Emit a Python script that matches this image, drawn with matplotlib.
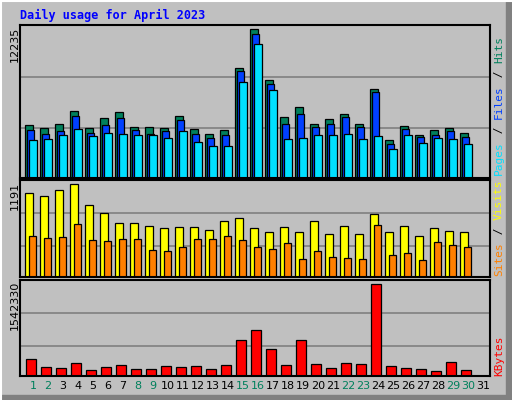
import matplotlib
matplotlib.use("Agg")
import matplotlib.pyplot as plt
from matplotlib.patches import Rectangle
from matplotlib.lines import Line2D

days = list(range(1, 32))
weekend = [1, 2, 8, 9, 15, 16, 22, 23, 29, 30]

hits = [4319, 4069, 4402, 5481, 4069, 4900, 5398, 4152, 4152, 4069, 5066, 3986, 3654, 3903, 9052, 12235,
        8056, 4983, 5814, 4402, 4817, 5232, 4402, 7308, 3156, 4236, 3571, 3903, 4069, 3737, 0]
files = [3903, 3654, 3820, 5066, 3737, 4319, 4900, 3903, 3654, 3820, 4734, 3654, 3322, 3571, 8803, 11793,
         7724, 4402, 5232, 4152, 4402, 4983, 4152, 7059, 2824, 3986, 3405, 3571, 3820, 3405, 0]
pages = [3156, 3239, 3571, 3986, 3488, 3737, 3654, 3571, 3571, 3322, 3820, 2990, 2658, 2658, 7890, 11046,
         7225, 3239, 3322, 3571, 3571, 3654, 3239, 3488, 2408, 3571, 2907, 3322, 3239, 2824, 0]
visits = [1075, 1036, 1114, 1191, 920, 817, 701, 701, 662, 624, 649, 649, 611, 714, 753, 636,
          585, 649, 585, 714, 559, 662, 559, 804, 585, 662, 533, 636, 598, 585, 0]
sites = [533, 507, 520, 688, 482, 469, 495, 495, 353, 340, 391, 495, 495, 533, 482, 391,
         366, 443, 237, 340, 262, 249, 237, 675, 288, 314, 224, 456, 417, 391, 0]
kbytes = [292708, 157612, 140725, 225160, 106951, 157612, 191386, 123838, 123838, 174499, 157612, 174499,
          123838, 191386, 596674, 765544, 461578, 191386, 596674, 208273, 140725, 225160, 208273, 1542330,
          174499, 140725, 123838, 90064, 242047, 106951, 0]

BG = "#C0C0C0"
W, H = 512, 400
fig = plt.figure(figsize=(5.12, 4.0), dpi=100, facecolor=BG)

# 3D frame
fig.add_artist(Line2D([1 / W, 1 / W], [0, 1], color="white", lw=1.5))
fig.add_artist(Line2D([0, 1], [1 - 1 / H, 1 - 1 / H], color="white", lw=1.5))
fig.add_artist(Rectangle((506 / W, 0), 6 / W, 1, color="#808080", transform=fig.transFigure))
fig.add_artist(Rectangle((0, 0), 1, 5 / H, color="#808080", transform=fig.transFigure))

x0 = [d - 1 for d in days]


def panel(top, bottom):
    ax = fig.add_axes([20 / W, 1 - bottom / H, 470 / W, (bottom - top) / H])
    ax.set_facecolor(BG)
    ax.set_xlim(-1 / 3, 31)
    ax.set_xticks([])
    ax.set_yticks([])
    for s in ax.spines.values():
        s.set_color("black")
        s.set_linewidth(1.5)
    return ax


def grid(ax, vmax, fracs):
    for f in fracs:
        ax.axhline(vmax * f, color="#808080", lw=1.2, zorder=0)


ax1 = panel(25, 178)
ax1.set_ylim(0, 12235 * 151.3 / 147.3)
grid(ax1, 12235, [0.335, 0.68])
kw = dict(align="edge", edgecolor="black", linewidth=0.9)
ax1.bar([x + 0.0 for x in x0], hits, 0.5, color="#00805C", **kw)
ax1.bar([x + 0.13 for x in x0], files, 0.5, color="#0040FF", **kw)
ax1.bar([x + 0.27 for x in x0], pages, 0.5, color="#00E0FF", **kw)

ax2 = panel(180, 277)
ax2.set_ylim(0, 1191 * 96.7 / 92.3)
grid(ax2, 1191, [0.333, 0.69])
ax2.bar([x + 0.0 for x in x0], visits, 0.55, color="#FFFF00", **kw)
ax2.bar([x + 0.25 for x in x0], sites, 0.5, color="#FF8000", **kw)

ax3 = panel(280, 376)
ax3.set_ylim(0, 1542330 * 95.4 / 91.3)
grid(ax3, 1542330, [0.325, 0.683])
ax3.bar([x + 0.07 for x in x0], kbytes, 0.66, color="#FF0000", **kw)
for d in days:
    ax3.text(d - 1 + 0.53, -0.05, str(d), transform=ax3.get_xaxis_transform(),
             ha="center", va="top", fontsize=8, family="DejaVu Sans",
             color="#00805C" if d in weekend else "black")

mono = "DejaVu Sans Mono"
fig.text(20 / W, 1 - 15 / H, "Daily usage for April 2023", color="#0000FF", fontsize=8.5,
         fontweight="bold", family=mono, va="center", ha="left")

for lab, ytop in [("12235", 27), ("1191", 182), ("1542330", 281)]:
    fig.text(15 / W, 1 - ytop / H, lab, rotation=90, ha="center", va="top", fontsize=8,
             family="DejaVu Sans")


def side(parts, ybottom):
    y = ybottom
    for txt, col in parts:
        t = fig.text(499 / W, 1 - y / H, txt, rotation=90, ha="center", va="bottom",
                     fontsize=8, family=mono, color=col)
        y -= len(txt) * 7.0


side([("Pages", "#00E0FF"), (" / ", "black"), ("Files", "#0040FF"), (" / ", "black"),
      ("Hits", "#00805C")], 175)
side([("Sites", "#FF8000"), (" / ", "black"), ("Visits", "#FFFF00")], 276)
side([("KBytes", "#FF0000")], 376)

fig.savefig("out.png", dpi=100, facecolor=BG)
